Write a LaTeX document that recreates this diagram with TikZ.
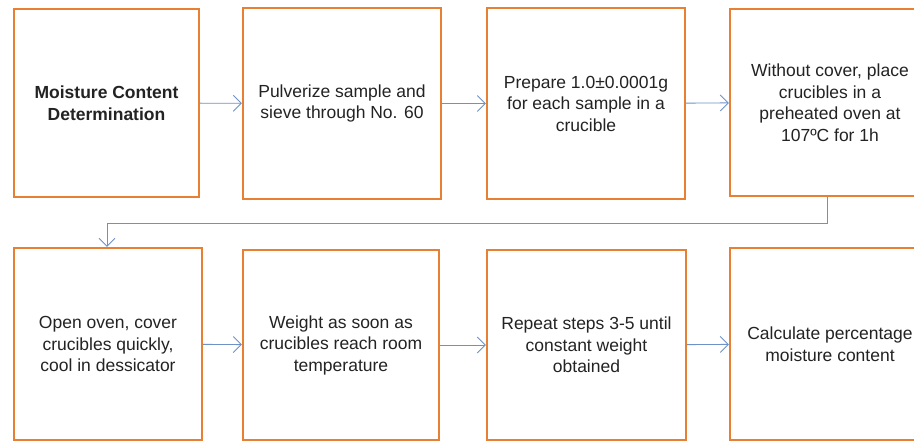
\documentclass[tikz,border=0pt]{standalone}
\usepackage{fontspec}
\setmainfont{Liberation Sans}
\usetikzlibrary{arrows.meta}
\definecolor{boxorange}{RGB}{232,128,52}
\definecolor{linkblue}{RGB}{110,145,200}
\definecolor{txtgray}{RGB}{35,35,35}
\tikzset{
  stepbox/.style={draw=boxorange, line width=2.2pt, fill=white, align=center,
    text=txtgray, font=\fontsize{17.5}{21.5}\selectfont, inner sep=0pt},
  link/.style={draw=linkblue, line width=0.9pt, -{Straight Barb[length=8pt,width=16pt,line width=0.9pt]}},
}
\begin{document}
\begin{tikzpicture}[x=1pt,y=-1pt]
\useasboundingbox (0,0) rectangle (914,441);
\clip (0,0) rectangle (914,441);
\fill[white] (0,0) rectangle (914,441);
\node[stepbox, minimum width=185pt, minimum height=188pt] (b1) at (106.5,103) {\textbf{Moisture Content}\\\textbf{Determination}};
\node[stepbox, minimum width=198pt, minimum height=191pt] (b2) at (342,103.5) {Pulverize sample and\\sieve through No. 60};
\node[stepbox, minimum width=198pt, minimum height=191pt] (b3) at (586,103.5) {Prepare 1.0±0.0001g\\for each sample in a\\crucible};
\node[stepbox, minimum width=200pt, minimum height=187pt] (b4) at (830,102.5) {Without cover, place\\crucibles in a\\preheated oven at\\107ºC for 1h};
\node[stepbox, minimum width=188pt, minimum height=192pt] (b5) at (108,344) {Open oven, cover\\crucibles quickly,\\cool in dessicator};
\node[stepbox, minimum width=196pt, minimum height=190pt] (b6) at (341,345) {Weight as soon as\\crucibles reach room\\temperature};
\node[stepbox, minimum width=199pt, minimum height=190pt] (b7) at (586.5,345) {Repeat steps 3-5 until\\constant weight\\obtained};
\node[stepbox, minimum width=200pt, minimum height=192pt] (b8) at (830,344) {Calculate percentage\\moisture content};
\draw[link] (b1) -- (b2);
\draw[link] (b2) -- (b3);
\draw[link] (b3) -- (b4);
\draw[link] (b5) -- (b6);
\draw[link] (b6) -- (b7);
\draw[link] (b7) -- (b8);
\coordinate (c1) at (827,223);
\coordinate (c2) at (107,223);
\draw[link] (b4.south -| c1) -- (c1) -- (c2) -- (c2 |- b5.north);
\end{tikzpicture}
\end{document}
